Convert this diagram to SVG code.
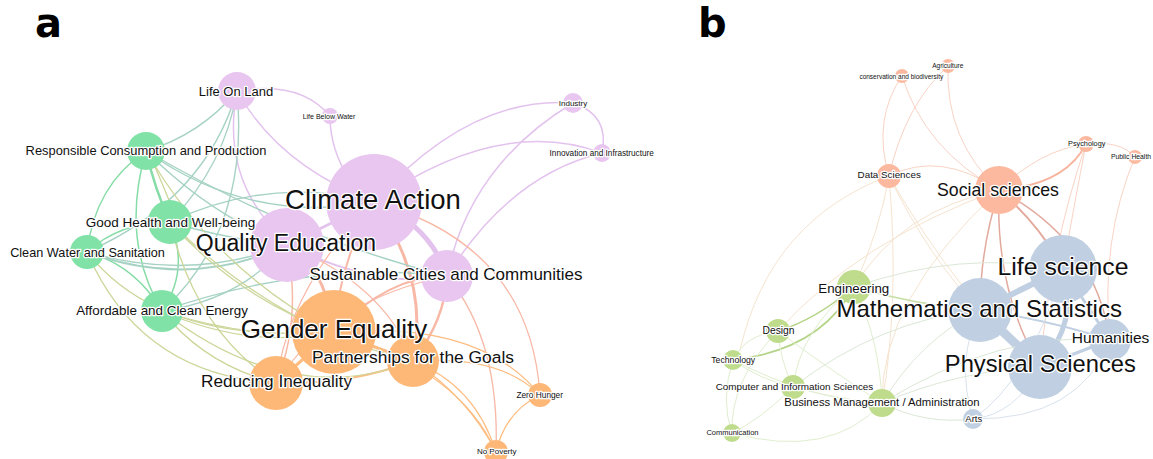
<svg xmlns="http://www.w3.org/2000/svg" width="1153" height="459" viewBox="0 0 1153 459">
<style>
.e{fill:none;stroke-linecap:round}
.pu{stroke:#e3c3ee;stroke-width:1.5}
.sa{stroke:#f8b8a6;stroke-width:1.5}
.or{stroke:#fdbd82;stroke-width:1.3}
.gr{stroke:#86dca6;stroke-width:1.5}
.te{stroke:#a6d2c4;stroke-width:1.4}
.ol{stroke:#cdd69a;stroke-width:1.3}
.rs{stroke:#f9d3c5;stroke-width:1}
.rp{stroke:#f6e4cf;stroke-width:1}
.rr{stroke:#e2a99d;stroke-width:1.5}
.rb{stroke:#c0d0e2}
.rlb{stroke:#d8e2ed;stroke-width:1}
.rg{stroke:#b4d487;stroke-width:1.6}
.rlg{stroke:#e0eecf;stroke-width:1}
.rgb{stroke:#dbe8d6;stroke-width:1}
.cg{fill:#80e2a6}.cp{fill:#e8c6f0}.co{fill:#fdb878}
.cs{fill:#fcb9a0}.cgr{fill:#bedc8c}.cb{fill:#c0d0e2}
text{font-family:"Liberation Sans",Arial,sans-serif;fill:#111;stroke:#fff;stroke-width:2.5;stroke-linejoin:round;paint-order:stroke;text-anchor:middle}
.panel{font-family:"DejaVu Sans",sans-serif;font-weight:bold;font-size:40px;stroke:none;text-anchor:start;fill:#000}
</style>
<rect width="1153" height="459" fill="#fff"/>
<text class="panel" x="35" y="37">a</text>
<text class="panel" x="698" y="37">b</text>

<g id="connectors">
<!-- panel a -->
<path class="e pu" d="M237,91 Q278,165 374,202" stroke-width="4"/>
<path class="e pu" d="M237,91 Q300,80 330,116"/>
<path class="e pu" d="M330,116 Q330,150 350,180"/>
<path class="e pu" d="M237,91 Q222,170 270,225"/>
<path class="e pu" d="M374,202 Q470,95 573,103"/>
<path class="e pu" d="M374,202 Q500,115 602,153"/>
<path class="e pu" d="M573,103 Q610,115 602,153"/>
<path class="e pu" d="M447,276 Q470,165 573,103"/>
<path class="e pu" d="M447,276 Q510,175 602,153"/>
<path class="e pu" d="M374,202 Q430,225 447,276" style="stroke-width:5"/>
<path class="e pu" d="M287,245 L374,202" style="stroke-width:3"/>
<path class="e pu" d="M287,245 Q380,290 447,276" style="stroke-width:2"/>
<path class="e sa" d="M374,202 Q530,245 540,395" style="stroke-width:1.3"/>
<path class="e sa" d="M447,276 Q500,340 496,452" style="stroke-width:1.3"/>
<path class="e sa" d="M374,202 Q430,280 413,361" style="stroke-width:3"/>
<path class="e sa" d="M447,276 Q445,320 413,361" style="stroke-width:2.5"/>
<path class="e sa" d="M287,245 Q325,265 334,332" style="stroke-width:3"/>
<path class="e sa" d="M287,245 Q302,320 276,383"/>
<path class="e sa" d="M374,202 Q340,260 334,332" style="stroke-width:2"/>
<path class="e sa" d="M334,332 Q390,275 447,276" style="stroke-width:2"/>
<path class="e sa" d="M287,245 Q385,285 413,361" style="stroke-width:1.2"/>
<path class="e sa" d="M374,202 Q290,285 276,383" style="stroke-width:1.2"/>
<path class="e sa" d="M447,276 Q330,300 276,383" style="stroke-width:1.2"/>
<path class="e or" d="M334,332 Q480,320 540,395"/>
<path class="e or" d="M413,361 Q475,385 496,452"/>
<path class="e or" d="M413,361 Q468,397 496,452"/>
<path class="e or" d="M540,395 Q505,412 496,452"/>
<path class="e or" d="M334,332 L276,383" style="stroke-width:3"/>
<path class="e or" d="M334,332 L413,361" style="stroke-width:3"/>
<path class="e or" d="M276,383 Q350,385 413,361" style="stroke-width:2"/>
<path class="e or" d="M413,361 Q500,355 540,395"/>
<path class="e or" d="M334,332 Q460,370 496,452"/>
<path class="e gr" d="M146,151 Q155,190 170,222" style="stroke-width:2.5"/>
<path class="e gr" d="M146,151 Q95,185 87,252"/>
<path class="e gr" d="M146,151 Q120,240 162,311"/>
<path class="e gr" d="M170,222 Q120,222 87,252"/>
<path class="e gr" d="M170,222 Q190,270 162,311"/>
<path class="e gr" d="M87,252 Q135,265 162,311"/>
<path class="e te" d="M237,91 Q200,135 146,151"/>
<path class="e te" d="M237,91 Q225,165 170,222"/>
<path class="e te" d="M237,91 Q205,200 87,252"/>
<path class="e te" d="M237,91 Q250,230 162,311"/>
<path class="e te" d="M146,151 Q250,225 374,202"/>
<path class="e te" d="M146,151 Q210,215 287,245"/>
<path class="e te" d="M87,252 Q190,290 287,245" style="stroke-width:2"/>
<path class="e te" d="M87,252 Q190,282 287,245"/>
<path class="e te" d="M162,311 Q240,300 287,245"/>
<path class="e te" d="M170,222 Q230,240 287,245"/>
<path class="e te" d="M170,222 Q270,175 374,202"/>
<path class="e te" d="M162,311 Q310,260 447,276"/>
<path class="e te" d="M146,151 Q300,240 447,276"/>
<path class="e ol" d="M146,151 Q215,270 334,332"/>
<path class="e ol" d="M150,155 Q165,190 175,215"/>
<path class="e ol" d="M170,222 Q240,300 334,332"/>
<path class="e ol" d="M170,222 Q195,330 276,383"/>
<path class="e ol" d="M87,252 Q160,345 334,332"/>
<path class="e ol" d="M87,252 Q140,375 276,383"/>
<path class="e ol" d="M162,311 Q250,350 334,332"/>
<path class="e ol" d="M162,311 Q250,340 334,332"/>
<path class="e ol" d="M162,311 Q205,365 276,383"/>
<path class="e ol" d="M162,311 Q290,410 413,361"/>
<path class="e ol" d="M170,222 Q280,330 413,361"/>
<!-- panel b -->
<path class="e rs" d="M902,76 Q925,150 999,190"/>
<path class="e rs" d="M902,76 Q872,120 889,176"/>
<path class="e rs" d="M948,66 Q905,105 889,176"/>
<path class="e rs" d="M948,66 Q945,140 999,190"/>
<path class="e rs" d="M889,176 Q940,150 999,190"/>
<path class="e rs" d="M999,190 Q1040,150 1086,144"/>
<path class="e" d="M999,190 Q1065,185 1086,144" stroke="#f7b59f" stroke-width="1.8"/>
<path class="e rs" d="M1086,144 Q1120,140 1135,157"/>
<path class="e rs" d="M1086,144 Q1050,250 1040,367"/>
<path class="e rs" d="M1135,157 Q1100,240 1110,340"/>
<path class="e rs" d="M1086,144 Q1075,200 1063,269"/>
<path class="e rp" d="M889,176 Q880,230 854,287"/>
<path class="e rp" d="M889,176 Q770,220 740,350"/>
<path class="e rp" d="M889,176 Q900,300 882,403"/>
<path class="e rp" d="M889,176 Q930,260 980,310"/>
<path class="e rp" d="M999,190 Q900,210 854,287"/>
<path class="e rp" d="M999,190 Q880,300 882,403"/>
<path class="e rp" d="M999,190 Q860,240 778,331"/>
<path class="e rp" d="M889,176 Q960,300 1040,367"/>
<path class="e rr" d="M999,190 Q1040,225 1063,269" style="stroke-width:2"/>
<path class="e rr" d="M999,190 Q980,250 980,310"/>
<path class="e rr" d="M999,190 Q995,290 1040,367"/>
<path class="e rr" d="M999,190 Q1095,240 1110,340"/>
<path class="e rb" d="M980,310 L1040,367" stroke-width="9"/>
<path class="e rb" d="M1063,269 L980,310" stroke-width="6"/>
<path class="e rb" d="M1063,269 Q1080,320 1040,367" stroke-width="5"/>
<path class="e rb" d="M1110,340 L1040,367" stroke-width="3"/>
<path class="e rb" d="M1110,340 L1063,269" stroke-width="3"/>
<path class="e rb" d="M1110,340 Q1050,320 980,310" stroke-width="2"/>
<path class="e rlb" d="M973,419 Q1015,415 1040,367"/>
<path class="e rlb" d="M973,419 Q1080,420 1110,340"/>
<path class="e rlb" d="M973,419 Q955,360 980,310"/>
<path class="e rlb" d="M973,419 Q1030,380 1063,269"/>
<path class="e rg" d="M854,287 Q815,320 778,331"/>
<path class="e rg" d="M854,287 Q820,350 733,360"/>
<path class="e rg" d="M854,287 Q915,305 980,310" style="stroke:#c7e0a8"/>
<path class="e rlg" d="M778,331 Q745,335 733,360"/>
<path class="e rlg" d="M778,331 Q780,360 793,387"/>
<path class="e rlg" d="M778,331 Q830,370 882,403"/>
<path class="e rlg" d="M733,360 Q760,380 793,387"/>
<path class="e rlg" d="M733,360 Q720,400 732,433"/>
<path class="e rlg" d="M733,360 Q810,400 882,403"/>
<path class="e rlg" d="M793,387 Q840,400 882,403"/>
<path class="e rlg" d="M793,387 Q760,420 732,433"/>
<path class="e rlg" d="M732,433 Q830,460 882,403"/>
<path class="e rlg" d="M778,331 Q730,380 732,433"/>
<path class="e rlg" d="M854,287 Q880,340 882,403"/>
<path class="e rlg" d="M854,287 Q800,330 793,387"/>
<path class="e rgb" d="M882,403 Q920,340 980,310"/>
<path class="e rgb" d="M882,403 Q960,370 1040,367"/>
<path class="e rgb" d="M882,403 Q925,425 973,419"/>
<path class="e rgb" d="M793,387 Q880,320 980,310"/>
<path class="e rgb" d="M854,287 Q960,250 1063,269"/>
<path class="e rgb" d="M882,403 Q1000,330 1110,340"/>
</g>

<g id="nodes-a">
<g id="n-climate-action"><circle class="cp" cx="374" cy="202" r="48"/></g>
<g id="n-quality-education"><circle class="cp" cx="287" cy="245" r="37"/></g>
<g id="n-sustainable-cities"><circle class="cp" cx="447" cy="276" r="26"/></g>
<g id="n-life-on-land"><circle class="cp" cx="237" cy="91" r="19"/></g>
<g id="n-life-below-water"><circle class="cp" cx="330" cy="116" r="8"/></g>
<g id="n-industry"><circle class="cp" cx="573" cy="103" r="10"/></g>
<g id="n-innovation"><circle class="cp" cx="602" cy="153" r="9"/></g>
<g id="n-responsible"><circle class="cg" cx="146" cy="151" r="19"/></g>
<g id="n-good-health"><circle class="cg" cx="170" cy="222" r="22"/></g>
<g id="n-clean-water"><circle class="cg" cx="87" cy="252" r="17"/></g>
<g id="n-affordable"><circle class="cg" cx="162" cy="311" r="21"/></g>
<g id="n-gender-equality"><circle class="co" cx="334" cy="332" r="42"/></g>
<g id="n-partnerships"><circle class="co" cx="413" cy="361" r="26"/></g>
<g id="n-reducing-inequality"><circle class="co" cx="276" cy="383" r="27"/></g>
<g id="n-zero-hunger"><circle class="co" cx="540" cy="395" r="12"/></g>
<g id="n-no-poverty"><circle class="co" cx="496" cy="452" r="12"/></g>
</g>

<g id="nodes-b">
<g id="n-agriculture"><circle class="cs" cx="948" cy="66" r="7"/></g>
<g id="n-conservation"><circle class="cs" cx="902" cy="76" r="7"/></g>
<g id="n-data-sciences"><circle class="cs" cx="889" cy="176" r="12"/></g>
<g id="n-social-sciences"><circle class="cs" cx="999" cy="190" r="24"/></g>
<g id="n-psychology"><circle class="cs" cx="1086" cy="144" r="8"/></g>
<g id="n-public-health"><circle class="cs" cx="1135" cy="157" r="7"/></g>
<g id="n-life-science"><circle class="cb" cx="1063" cy="269" r="34"/></g>
<g id="n-math-stats"><circle class="cb" cx="980" cy="310" r="32"/></g>
<g id="n-humanities"><circle class="cb" cx="1110" cy="340" r="21"/></g>
<g id="n-physical-sciences"><circle class="cb" cx="1040" cy="367" r="32"/></g>
<g id="n-arts"><circle class="cb" cx="973" cy="419" r="10"/></g>
<g id="n-engineering"><circle class="cgr" cx="854" cy="287" r="17"/></g>
<g id="n-design"><circle class="cgr" cx="778" cy="331" r="12"/></g>
<g id="n-technology"><circle class="cgr" cx="733" cy="360" r="10"/></g>
<g id="n-computer-info"><circle class="cgr" cx="793" cy="387" r="12"/></g>
<g id="n-business"><circle class="cgr" cx="882" cy="403" r="14"/></g>
<g id="n-communication"><circle class="cgr" cx="732" cy="433" r="9"/></g>
</g>

<g id="labels">
<text x="373" y="209" font-size="27.5">Climate Action</text>
<text x="286" y="251" font-size="23">Quality Education</text>
<text x="446" y="280" font-size="17">Sustainable Cities and Communities</text>
<text x="236" y="95.5" font-size="13">Life On Land</text>
<text x="329" y="119.3" font-size="7" stroke-width="1.5">Life Below Water</text>
<text x="573" y="106" font-size="8" stroke-width="1.5">Industry</text>
<text x="601.7" y="155.7" font-size="8.2" stroke-width="1.5">Innovation and Infrastructure</text>
<text x="146" y="155" font-size="12.9">Responsible Consumption and Production</text>
<text x="170.5" y="227" font-size="13.5">Good Health and Well-being</text>
<text x="87.5" y="256.7" font-size="12.7">Clean Water and Sanitation</text>
<text x="162" y="315" font-size="13.4">Affordable and Clean Energy</text>
<text x="334" y="338" font-size="26">Gender Equality</text>
<text x="413" y="362.7" font-size="17.4">Partnerships for the Goals</text>
<text x="276.5" y="386.7" font-size="17.2">Reducing Inequality</text>
<text x="539.7" y="398" font-size="8.3" stroke-width="1.5">Zero Hunger</text>
<text x="496.7" y="454.3" font-size="8" stroke-width="1.5">No Poverty</text>

<text x="947.8" y="68.3" font-size="6.5" stroke-width="1.5">Agriculture</text>
<text x="901.3" y="78.5" font-size="6.5" stroke-width="1.5">conservation and biodiversity</text>
<text x="889.2" y="178.3" font-size="9.8" stroke-width="2">Data Sciences</text>
<text x="998" y="195.7" font-size="17.7">Social sciences</text>
<text x="1086.7" y="146" font-size="7.3" stroke-width="1.5">Psychology</text>
<text x="1111" y="159.3" font-size="6.8" stroke-width="1.5" style="text-anchor:start">Public Health</text>
<text x="1063" y="275" font-size="24.8">Life science</text>
<text x="979.2" y="317.3" font-size="24">Mathematics and Statistics</text>
<text x="1110.5" y="343.3" font-size="15.5">Humanities</text>
<text x="1040.3" y="372.3" font-size="23.7">Physical Sciences</text>
<text x="973.8" y="421.7" font-size="9.5" stroke-width="1.5">Arts</text>
<text x="853.8" y="293.3" font-size="13.3">Engineering</text>
<text x="778.5" y="334" font-size="10.3" stroke-width="2">Design</text>
<text x="733.2" y="363.3" font-size="8.7" stroke-width="1.5">Technology</text>
<text x="794.5" y="390" font-size="9.9" stroke-width="2">Computer and Information Sciences</text>
<text x="882" y="406" font-size="11.3" stroke-width="2">Business Management / Administration</text>
<text x="732.5" y="435.3" font-size="7.5" stroke-width="1.5">Communication</text>
</g>
</svg>
